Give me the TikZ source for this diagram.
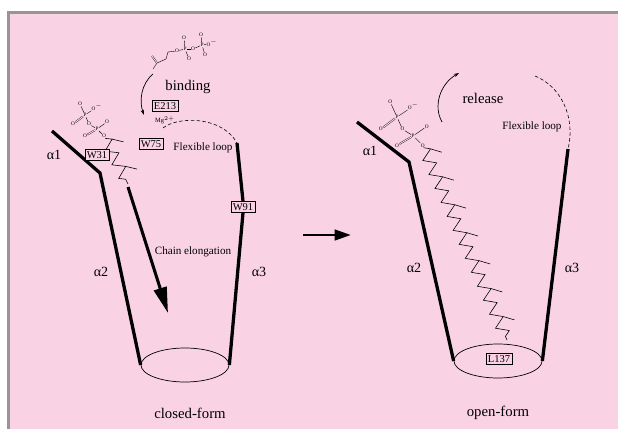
\documentclass[tikz,border=0pt]{standalone}
\usepackage{fontspec}
\setmainfont{Liberation Serif}
\usetikzlibrary{positioning}
\usetikzlibrary{shapes}
\usetikzlibrary{arrows.meta}
\usetikzlibrary{decorations.pathmorphing}
\usetikzlibrary{decorations.markings}
\definecolor{bgpink}{RGB}{249,211,228}
\definecolor{framegray}{RGB}{150,150,150}
\tikzset{
    helix/.style = {-,line width=2.8pt,black,line join=miter},
    ring/.style = {ellipse, draw=black, line width=0.6pt, minimum width=2.64cm, minimum height=1.02cm, inner sep=0pt},
    res/.style = {rectangle, draw=black, line width=0.5pt, inner sep=1.6pt, fill=bgpink, font=\fontsize{9}{10}\selectfont},
    lbl/.style = {inner sep=0pt, font=\fontsize{12.6}{14}\selectfont},
    slbl/.style = {inner sep=0pt, font=\fontsize{9.5}{11}\selectfont},
    alpha/.style = {inner sep=0pt, font=\fontsize{12}{14}\selectfont},
    atom/.style = {inner sep=0.3pt, font=\fontsize{4.5}{5}\selectfont},
    bond/.style = {-, line width=0.35pt},
    dbond/.style = {-, line width=0.3pt, double=bgpink, double distance=0.8pt},
    bigarrow/.style = {-{Triangle[length=22pt,width=11pt]}, line width=2.6pt},
    midarrow/.style = {-{Triangle[length=14pt,width=9pt]}, line width=2.4pt},
    bentarrow/.style = {-{Stealth[length=4.5pt,width=3pt]}, line width=0.6pt},
    loopline/.style = {-, densely dashed, line width=0.5pt},
    chain/.style = {line width=0.5pt,
        postaction={draw, decorate, decoration={zigzag, segment length=13pt, amplitude=5pt}},
        postaction={decorate, decoration={markings,
            mark=between positions 3.25pt and -4pt step 26pt with {\draw[line width=0.5pt] (0,5pt) -- ++(50:10pt);}}}},
    diphos/.pic = {
        \node[atom] (-P1) at (0,0) {P};
        \node[atom] (-Oa) at (-5,-11) {O};
        \node[atom] (-Ob) at (12,-8) {O$^-$};
        \node[atom] (-Oc) at (-12,9) {O};
        \node[atom] (-Od) at (4,9) {O};
        \node[atom] (-P2) at (12,14) {P};
        \node[atom] (-Oe) at (22,7) {O};
        \node[atom] (-Of) at (0,21) {O};
        \node[atom] (-Og) at (19,21) {O};
        \draw[bond] (-P1) -- (-Oa);
        \draw[bond] (-P1) -- (-Ob);
        \draw[dbond] (-P1) -- (-Oc);
        \draw[bond] (-P1) -- (-Od);
        \draw[bond] (-Od) -- (-P2);
        \draw[bond] (-P2) -- (-Oe);
        \draw[dbond] (-P2) -- (-Of);
        \draw[bond] (-P2) -- (-Og);
    }
}

\begin{document}
\begin{tikzpicture}[x=0.03cm,y=-0.03cm]
\useasboundingbox (0,0) rectangle (618,429);
\fill[white] (0,0) rectangle (618,429);
\fill[bgpink] (9.5,13.5) rectangle (618,429);
\draw[framegray, line width=2pt] (8.5,429) -- (8.5,12.5) -- (618,12.5);
%
% closed form
\node[ring] at (185,365) (ringC) {};
\coordinate (a1C) at (52,131);
\coordinate (kinkC) at (100,173);
\coordinate (a3C) at (237,143);
\node[res] at (243,207) (w91) {W91};
\draw[helix] (a1C) -- (kinkC) -- (ringC.west);
\draw[helix] (a3C) -- (w91.north);
\draw[helix] (w91.south) -- (ringC.east);
\node[alpha] at (54,155) (alC1) {α1};
\node[alpha] at (101,272) (alC2) {α2};
\node[alpha] at (259,272) (alC3) {α3};
%
\pic (dpL) at (85,115) {diphos};
\coordinate (endC) at (128,184);
\path[chain] (dpL-Og) -- (endC);
%
\node[res] at (97,155) (w31) {W31};
\node[res] at (151,144) (w75) {W75};
\node[res] at (165,106) (e213) {E213};
\node[atom, font=\fontsize{5.5}{6}\selectfont] at (165,120) (mg) {Mg$^{2+}$};
\coordinate (loopC) at (163,128);
\draw[loopline] (loopC) .. controls (178,116) and (222,116) .. (a3C);
\node[slbl] at (203,148) (flexC) {Flexible loop};
%
\coordinate (elgA) at (128,187);
\coordinate (elgB) at (168,313);
\draw[bigarrow] (elgA) -- (elgB);
\node[slbl] at (193,252) (elg) {Chain elongation};
%
% free substrate and binding
\node[atom] at (177,51) (ipO1) {O};
\node[atom] at (185,49) (ipP1) {P};
\node[atom] at (184,38) (ipO2) {O};
\node[atom] at (189,59) (ipO3) {O};
\node[atom] at (193,49) (ipO4) {O};
\node[atom] at (202,45) (ipP2) {P};
\node[atom] at (201,35) (ipO5) {O};
\node[atom] at (205,55) (ipO6) {O};
\node[atom] at (212,43) (ipO7) {O$^-$};
\coordinate (ipc1) at (168,52);
\coordinate (ipc2) at (166,59);
\coordinate (ipc3) at (157,63);
\coordinate (ipc4) at (152,56);
\coordinate (ipc5) at (153,69);
\draw[bond] (ipO1) -- (ipc1) -- (ipc2) -- (ipc3) -- (ipc5);
\draw[dbond] (ipc3) -- (ipc4);
\draw[bond] (ipO1) -- (ipP1);
\draw[bond] (ipP1) -- (ipO2);
\draw[bond] (ipP1) -- (ipO3);
\draw[bond] (ipP1) -- (ipO4);
\draw[bond] (ipO4) -- (ipP2);
\draw[bond] (ipP2) -- (ipO5);
\draw[bond] (ipP2) -- (ipO6);
\draw[bond] (ipP2) -- (ipO7);
%
\coordinate (bdA) at (153,74);
\coordinate (bdB) at (144,115);
\draw[bentarrow] (bdA) .. controls (141,84) and (139,101) .. (bdB);
\node[lbl] at (188,87) (bind) {binding};
\node[lbl] at (190,413) (closed) {closed-form};
%
% closed -> open
\coordinate (mvA) at (303,235);
\coordinate (mvB) at (351,235);
\draw[midarrow] (mvA) -- (mvB);
%
% open form
\node[ring] at (498,361) (ringO) {};
\coordinate (a1O) at (357,122);
\coordinate (kinkO) at (409,162);
\coordinate (a3O) at (568,149);
\draw[helix] (a1O) -- (kinkO) -- (ringO.west);
\draw[helix] (a3O) -- (ringO.east);
\node[alpha] at (370,151) (alO1) {α1};
\node[alpha] at (414,268) (alO2) {α2};
\node[alpha] at (572,268) (alO3) {α3};
\node[res] at (499,359) (l137) {L137};
%
\coordinate (loopO) at (535,76);
\draw[loopline] (loopO) .. controls (560,86) and (576,116) .. (a3O);
\node[slbl] at (532,127) (flexO) {Flexible loop};
%
\pic[scale=1.35] (dpR) at (397,117) {diphos};
\coordinate (endO) at (507,340);
\path[chain] (dpR-Og) -- (endO);
%
\coordinate (rlA) at (442,122);
\coordinate (rlB) at (459,73);
\draw[bentarrow] (rlA) .. controls (433,106) and (440,84) .. (rlB);
\node[lbl] at (483,98) (rel) {release};
\node[lbl] at (498,413) (open) {open-form};

\end{tikzpicture}
\end{document}
